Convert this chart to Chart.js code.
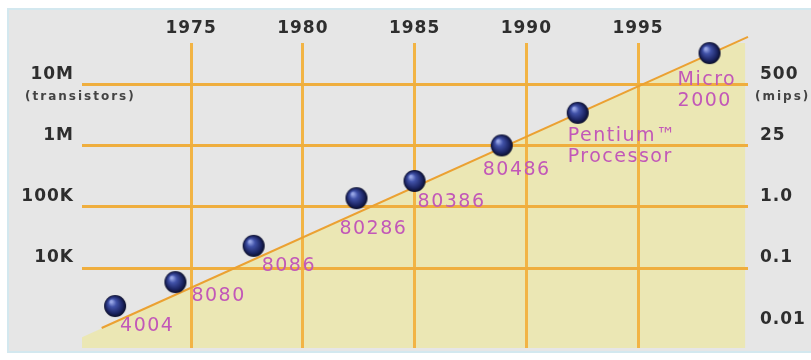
<!DOCTYPE html>
<html>
<head>
<meta charset="utf-8">
<script src="https://cdn.jsdelivr.net/npm/chart.js@4/dist/chart.umd.min.js"></script>
<style>
  body { margin: 0; background: #fff; }
  #box { position: absolute; left: 7px; top: 8px; width: 820px; height: 341px; background: #e6e6e6; border: 2px solid #d3e8ef; }
  #chart { position: absolute; left: 0; top: 0; }
</style>
</head>
<body>
<div id="box"></div>
<canvas id="chart" width="811" height="360"></canvas>
<script>
// chips (year, transistor count)
const chips = ['4004', '8080', '8086', '80286', '80386', '80486', ['Pentium™', 'Processor'], ['Micro', '2000']];
const chipYears = [1971.6, 1974.3, 1977.8, 1982.4, 1985.0, 1988.9, 1992.3, 1998.2];
const chipTransistors = [2400, 5900, 23000, 138000, 263000, 1000000, 3400000, 32000000];

// trend line and the shaded area under it
const trendYears = [1971.0, 1999.92];
const trendTransistors = [1050, 59000000];
const shadeYears = [1969.45, 1999.8];
const shadeTransistors = [575, 56000000];

// axes
const yearTicks = [1975, 1980, 1985, 1990, 1995];
const transistorTicks = [1e4, 1e5, 1e6, 1e7];
const transistorLabels = ['10K', '100K', '1M', '10M'];
const mipsTicks = [1e3, 1e4, 1e5, 1e6, 1e7];
const mipsLabels = ['0.01', '0.1', '1.0', '25', '500'];

// where each chip name sits relative to its ball (layout only)
const labelShift = [[5, 20], [16, 14], [8, 20], [-17, 31], [3, 21], [-19, 25], [-10, 23], [-32, 27]];

const Y_MIN = 496, Y_MAX = 4.68e7;
const tickFont = { family: 'DejaVu Sans', size: 17, weight: 'bold' };

function makeSphere(r) {
  const c = document.createElement('canvas');
  c.width = c.height = r * 2 + 2;
  const g = c.getContext('2d');
  const m = r + 1;
  const grad = g.createRadialGradient(m - r * 0.35, m - r * 0.4, 1, m, m, r);
  grad.addColorStop(0, '#97a6e6');
  grad.addColorStop(0.3, '#4152a8');
  grad.addColorStop(0.75, '#1b2462');
  grad.addColorStop(1, '#0a0d28');
  g.fillStyle = grad;
  g.beginPath();
  g.arc(m, m, r, 0, Math.PI * 2);
  g.fill();
  return c;
}

const xy = (xs, ys) => xs.map((x, i) => ({ x: x, y: ys[i] }));

const spacing = {
  id: 'spacing',
  beforeDraw(chart) {
    chart.ctx.letterSpacing = '1px';
  }
};

const chipNames = {
  id: 'chipNames',
  afterDatasetsDraw(chart) {
    const ctx = chart.ctx;
    const meta = chart.getDatasetMeta(0);
    ctx.save();
    ctx.font = '19px "DejaVu Sans"';
    ctx.letterSpacing = '1.5px';
    ctx.fillStyle = '#c258b8';
    ctx.textAlign = 'left';
    ctx.textBaseline = 'middle';
    meta.data.forEach((pt, i) => {
      [].concat(chips[i]).forEach((t, j) => {
        ctx.fillText(t, pt.x + labelShift[i][0], pt.y + labelShift[i][1] + j * 21);
      });
    });
    const yu = chart.scales.y.getPixelForValue(1e7) + 13;
    ctx.font = 'bold 12px "DejaVu Sans"';
    ctx.letterSpacing = '2px';
    ctx.fillStyle = '#444';
    ctx.fillText('(transistors)', 25, yu);
    ctx.fillText('(mips)', 755, yu);
    ctx.restore();
  }
};

const noPad = (s, w) => {
  s.width = w;
  s.paddingTop = 0;
  s.paddingBottom = 0;
};

new Chart(document.getElementById('chart'), {
  type: 'scatter',
  plugins: [spacing, chipNames],
  data: {
    datasets: [
      {
        label: 'chips',
        data: xy(chipYears, chipTransistors),
        pointStyle: makeSphere(11),
        pointRadius: 11,
        showLine: false,
        clip: false,
        order: 0,
      },
      {
        label: 'trend',
        data: xy(trendYears, trendTransistors),
        showLine: true,
        borderColor: '#eba132',
        borderWidth: 2,
        pointRadius: 0,
        fill: false,
        clip: false,
        order: 1,
      },
      {
        label: 'shade',
        data: xy(shadeYears, shadeTransistors),
        showLine: true,
        borderColor: 'rgba(0,0,0,0)',
        borderWidth: 0,
        pointRadius: 0,
        fill: 'start',
        backgroundColor: '#ebe7b4',
        clip: false,
        order: 2,
      },
    ],
  },
  options: {
    responsive: false,
    animation: false,
    events: [],
    layout: { padding: { left: 0, right: 0, top: 0, bottom: 12 } },
    plugins: {
      legend: { display: false },
      tooltip: { enabled: false },
      filler: { drawTime: 'beforeDraw' },
    },
    scales: {
      x: {
        type: 'linear',
        position: 'top',
        min: 1970.12,
        max: 1999.92,
        afterBuildTicks: (s) => { s.ticks = yearTicks.map((v) => ({ value: v })); },
        afterFit: (s) => { s.height = 43; s.paddingLeft = 0; s.paddingRight = 0; },
        grid: { color: '#f2b445', lineWidth: 3, drawTicks: false },
        border: { display: false },
        ticks: { padding: 4, color: '#2e2e2e', font: tickFont, maxRotation: 0, callback: (v) => String(v) },
      },
      y: {
        type: 'logarithmic',
        position: 'left',
        min: Y_MIN,
        max: Y_MAX,
        afterBuildTicks: (s) => { s.ticks = transistorTicks.map((v) => ({ value: v })); },
        afterFit: (s) => noPad(s, 82),
        grid: { color: '#efae3e', lineWidth: 3, drawTicks: false },
        border: { display: false },
        ticks: {
          padding: 8,
          labelOffset: -10,
          color: '#2e2e2e',
          font: tickFont,
          callback: (v) => transistorLabels[transistorTicks.indexOf(v)],
        },
      },
      y2: {
        type: 'logarithmic',
        position: 'right',
        min: Y_MIN,
        max: Y_MAX,
        afterBuildTicks: (s) => { s.ticks = mipsTicks.map((v) => ({ value: v })); },
        afterFit: (s) => noPad(s, 63),
        grid: { display: false, drawTicks: false },
        border: { display: false },
        ticks: {
          padding: 12,
          labelOffset: -10,
          color: '#2e2e2e',
          font: tickFont,
          callback: (v) => mipsLabels[mipsTicks.indexOf(v)],
        },
      },
    },
  },
});
</script>
</body>
</html>
